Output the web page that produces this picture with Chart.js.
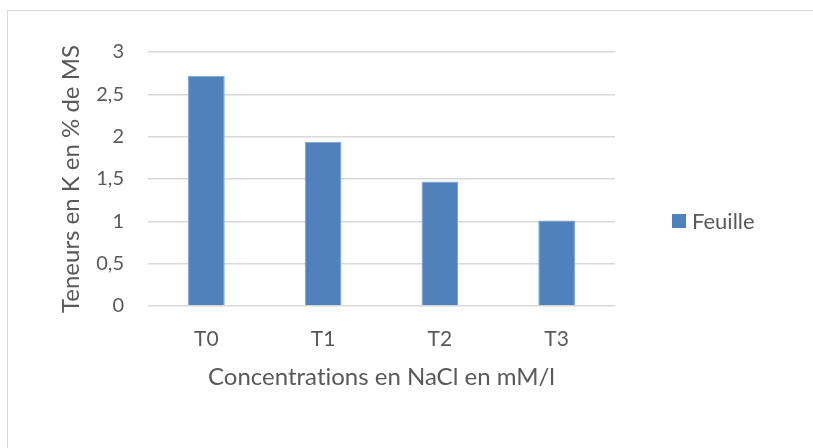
<!DOCTYPE html>
<html>
<head>
<meta charset="utf-8">
<script src="https://cdn.jsdelivr.net/npm/chart.js@4"></script>
<style>
  html, body { margin: 0; padding: 0; background: #fff; overflow: hidden; }
  #wrap { position: relative; width: 813px; height: 448px; }
  #frame {
    position: absolute; left: 7px; top: 10px; width: 900px; height: 600px;
    border: 1px solid #d9d9d9; box-sizing: border-box;
  }
  #chart { position: absolute; left: 0; top: 0; }
</style>
</head>
<body>
<div id="wrap">
  <div id="frame"></div>
  <canvas id="chart" width="813" height="448"></canvas>
</div>
<script>
const categories = ["T0", "T1", "T2", "T3"];
const feuille = [2.72, 1.94, 1.47, 1.01];
const yTickLabels = ["0", "0,5", "1", "1,5", "2", "2,5", "3"];
const seriesLabel = "Feuille";
const xTitle = "Concentrations en NaCl en mM/l";
const yTitle = "Teneurs en K en % de MS";

const FONT = "Lato, 'Open Sans', sans-serif";
const TEXT = "#595959";
const GRID = "#d9d9d9";
const BLUE = "#4f81bd";

// no "ti" ligature etc.
const plainText = {
  id: "plainText",
  beforeDraw(chart) { chart.ctx.textRendering = "optimizeSpeed"; }
};

// legend on the right, drawn like the Excel one
const sideLegend = {
  id: "sideLegend",
  afterDraw(chart) {
    const c = chart.ctx;
    const ds = chart.data.datasets[0];
    c.save();
    c.fillStyle = ds.backgroundColor;
    c.fillRect(672, 214, 14, 14);
    c.fillStyle = TEXT;
    c.font = "22px " + FONT;
    c.textBaseline = "middle";
    c.textAlign = "left";
    c.fillText(ds.label, 692, 222);
    c.restore();
  }
};

new Chart(document.getElementById("chart").getContext("2d"), {
  type: "bar",
  data: {
    labels: categories,
    datasets: [{
      label: seriesLabel,
      data: feuille,
      backgroundColor: BLUE,
      borderColor: "#7a9fd0",
      borderWidth: 1,
      barPercentage: 0.314,
      categoryPercentage: 1
    }]
  },
  options: {
    responsive: false,
    animation: false,
    layout: { padding: { left: 0, right: 198, top: 52, bottom: 0 } },
    plugins: {
      legend: { display: false },
      tooltip: { enabled: false }
    },
    scales: {
      x: {
        afterFit: (s) => { s.height = 142; },
        grid: { display: false, drawTicks: false },
        border: { display: false },
        ticks: { color: TEXT, font: { family: FONT, size: 21 }, padding: 21 },
        title: {
          display: true, text: xTitle, color: TEXT,
          font: { family: FONT, size: 24 }, padding: { top: 0, bottom: 56 }
        }
      },
      y: {
        min: 0, max: 3,
        afterFit: (s) => { s.width = 148; },
        grid: { color: GRID, lineWidth: 1.5, drawTicks: false },
        border: { display: false },
        ticks: {
          stepSize: 0.5, color: TEXT, padding: 24,
          font: { family: FONT, size: 20 },
          callback: (v, i) => yTickLabels[i]
        },
        title: {
          display: true, text: yTitle, color: TEXT,
          font: { family: FONT, size: 24 }, padding: { top: 57, bottom: 0 }
        }
      }
    }
  },
  plugins: [plainText, sideLegend]
});
</script>
</body>
</html>
